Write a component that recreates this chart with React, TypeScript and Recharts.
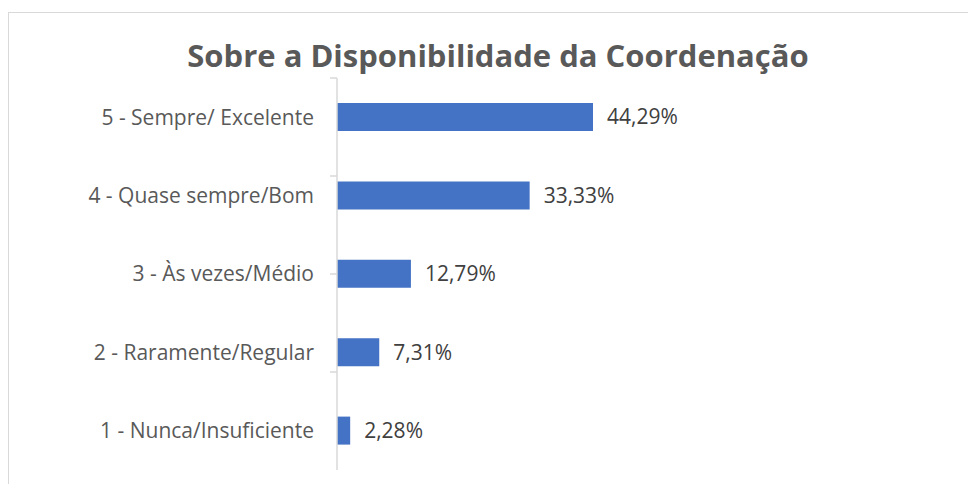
import React from "react";
import { BarChart, Bar, XAxis, YAxis, LabelList } from "recharts";

const categories = [
  "5 - Sempre/ Excelente",
  "4 - Quase sempre/Bom",
  "3 - Às vezes/Médio",
  "2 - Raramente/Regular",
  "1 - Nunca/Insuficiente",
];
const values = [44.29, 33.33, 12.79, 7.31, 2.28];
const title = "Sobre a Disponibilidade da Coordenação";
const boundaryTicks = [0, 1, 2, 3, 4, 5];

const data = categories.map((c, i) => ({ name: c, value: values[i] }));

const FONT = "'Open Sans', 'Noto Sans', sans-serif";

export default function App() {
  return (
    <div style={{ position: "relative", width: 968, height: 476, fontFamily: FONT }}>
      <div
        style={{
          position: "absolute",
          left: 0,
          top: 4,
          width: 990,
          height: 500,
          border: "1px solid #d9d9d9",
          boxSizing: "border-box",
        }}
      />
      <div
        style={{
          position: "absolute",
          left: 0,
          top: 25,
          width: 980,
          textAlign: "center",
          fontSize: 31,
          fontWeight: 700,
          color: "#595959",
          lineHeight: "44px",
          whiteSpace: "nowrap",
        }}
      >
        {title}
      </div>
      <div style={{ position: "absolute", left: 0, top: 0 }}>
        <BarChart
          width={968}
          height={476}
          data={data}
          layout="vertical"
          margin={{ top: 70, right: 350, bottom: 14, left: 0 }}
          barSize={28}
        >
          <XAxis type="number" domain={[0, 50]} hide />
          <YAxis
            yAxisId="b_cat"
            type="category"
            dataKey="name"
            width={321}
            axisLine={false}
            tickLine={false}
            tickSize={0}
            tickMargin={15}
            tick={{ fill: "#595959", fontSize: 21, fontFamily: FONT }}
          />
          <YAxis
            yAxisId="a_grid"
            type="number"
            domain={[0, 5]}
            ticks={boundaryTicks}
            width={8}
            tick={() => <g />}
            tickSize={7}
            tickLine={{ stroke: "#d9d9d9", strokeWidth: 1.5 }}
            axisLine={{ stroke: "#d9d9d9", strokeWidth: 1.5 }}
          />
          <Bar yAxisId="b_cat" dataKey="value" fill="#4472c4" isAnimationActive={false}>
            <LabelList
              dataKey="value"
              position="right"
              offset={14}
              formatter={(v: number) => v.toFixed(2).replace(".", ",") + "%"}
              style={{ fill: "#404040", fontSize: 21, fontFamily: FONT }}
            />
          </Bar>
        </BarChart>
      </div>
    </div>
  );
}
